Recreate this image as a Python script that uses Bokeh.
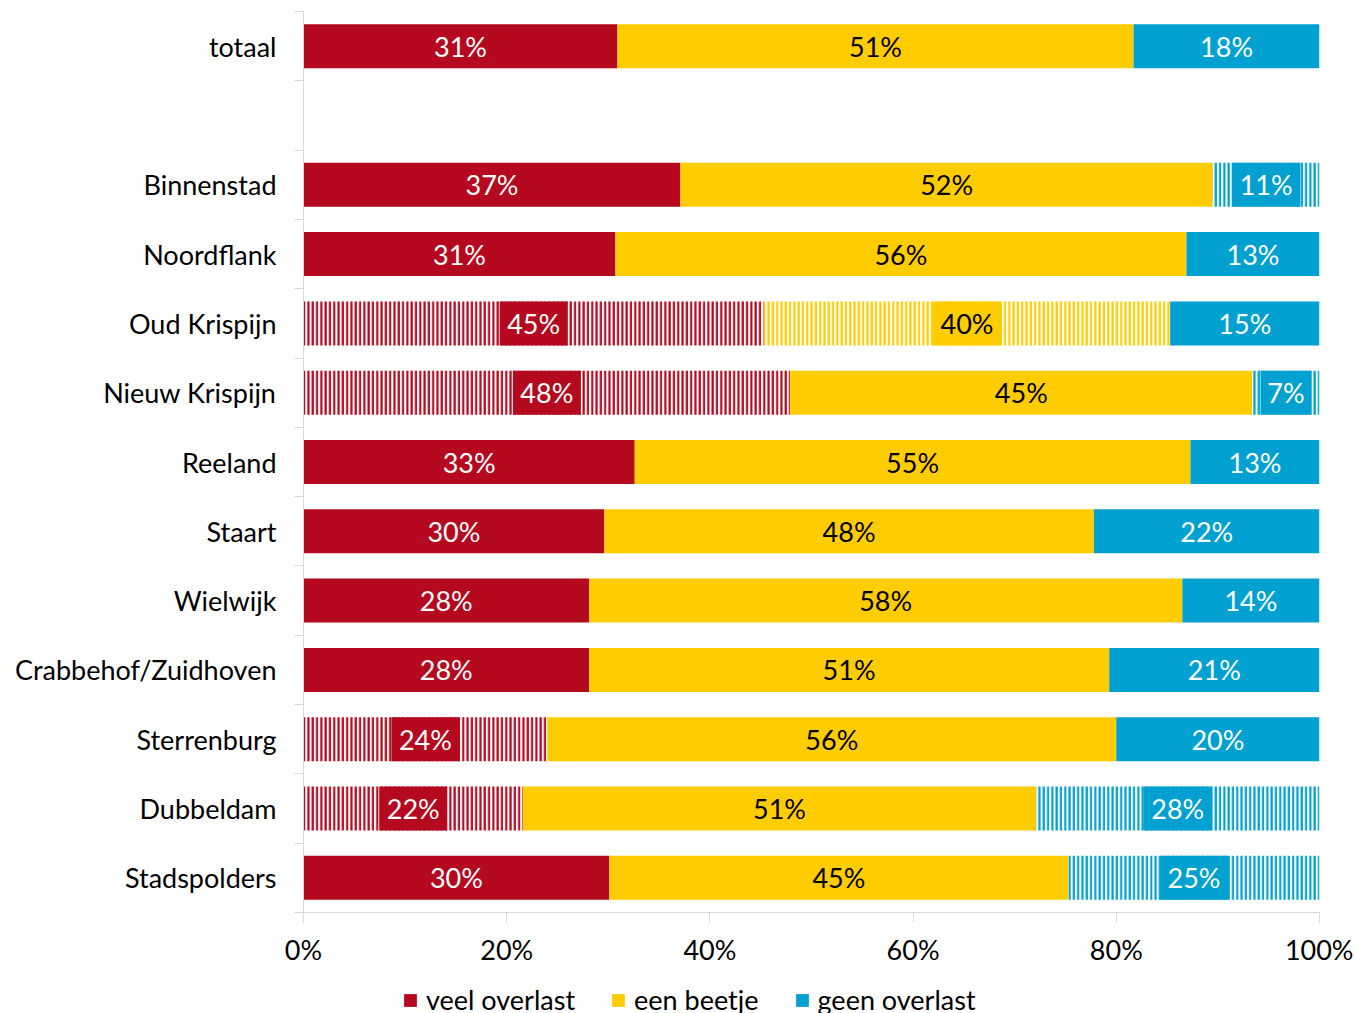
from bokeh.plotting import figure
from bokeh.layouts import column
from bokeh.models import ColumnDataSource, Range1d, FixedTicker, Legend, LegendItem, PrintfTickFormatter
from bokeh.core.properties import value
from bokeh.embed import file_html
from bokeh.resources import INLINE

areas = ["totaal", "Binnenstad", "Noordflank", "Oud Krispijn", "Nieuw Krispijn", "Reeland",
         "Staart", "Wielwijk", "Crabbehof/Zuidhoven", "Sterrenburg", "Dubbeldam", "Stadspolders"]
slots = [0, 2, 3, 4, 5, 6, 7, 8, 9, 10, 11, 12]   # row slot (one empty slot after totaal)
veel = [30.9, 37.1, 30.7, 45.3, 47.9, 32.6, 29.6, 28.1, 28.1, 24.0, 21.6, 30.1]
beetje = [50.8, 52.4, 56.2, 40.0, 45.5, 54.7, 48.2, 58.4, 51.2, 56.0, 50.5, 45.2]
geen = [18.3, 10.5, 13.1, 14.7, 6.6, 12.7, 22.2, 13.5, 20.7, 20.0, 27.9, 24.7]
labels_veel = ["31%", "37%", "31%", "45%", "48%", "33%", "30%", "28%", "28%", "24%", "22%", "30%"]
labels_beetje = ["51%", "52%", "56%", "40%", "45%", "55%", "48%", "58%", "51%", "56%", "51%", "45%"]
labels_geen = ["18%", "11%", "13%", "15%", "7%", "13%", "22%", "14%", "21%", "20%", "28%", "25%"]
hatch_veel = [False, False, False, True, True, False, False, False, False, True, True, False]
hatch_beetje = [False, False, False, True, False, False, False, False, False, False, False, False]
hatch_geen = [False, True, False, False, True, False, False, False, False, False, True, True]
series_names = ["veel overlast", "een beetje", "geen overlast"]
colors = ["#B4091E", "#FFCC00", "#00A1D1"]
text_colors = ["white", "black", "white"]
x_ticks = [0, 20, 40, 60, 80, 100]

FONT = "Lato"
FS = "27px"
N_SLOTS = 13
BAR_H = 0.635
FIG_W = 1353

ys = [N_SLOTS - s - 0.5 for s in slots]

p = figure(frame_width=1016, frame_height=901, output_backend="svg", toolbar_location=None,
           x_range=Range1d(0, 100), y_range=Range1d(0, N_SLOTS),
           min_border_left=303, min_border_right=34, min_border_top=11, min_border_bottom=0)
p.xgrid.visible = False
p.ygrid.visible = False
p.outline_line_color = None
p.background_fill_color = "white"
p.border_fill_color = "white"

values = [veel, beetje, geen]
labels = [labels_veel, labels_beetje, labels_geen]
hatches = [hatch_veel, hatch_beetje, hatch_geen]

lefts = [0.0] * len(areas)
for k in range(3):
    vals = values[k]
    left = lefts[:]
    right = [l + v for l, v in zip(left, vals)]
    lefts = right
    mid = [(l + r) / 2 for l, r in zip(left, right)]
    src = ColumnDataSource(dict(
        y=ys, left=left, right=right, mid=mid, label=labels[k],
        fill=["white" if h else colors[k] for h in hatches[k]],
        hatch=["|" if h else " " for h in hatches[k]],
    ))
    p.hbar(y="y", left="left", right="right", height=BAR_H, fill_color="fill",
           hatch_pattern="hatch", hatch_color=colors[k], hatch_scale=4.3, hatch_weight=2.2,
           line_color=None, source=src)
    idx = [i for i, h in enumerate(hatches[k]) if h]
    if idx:
        bsrc = ColumnDataSource(dict(
            x=[mid[i] for i in idx], y=[ys[i] for i in idx],
            w=[17 + 17 * len(labels[k][i]) for i in idx],
        ))
        p.rect(x="x", y="y", width="w", height=BAR_H, width_units="screen",
               fill_color=colors[k], line_color=None, source=bsrc)
    p.text(x="mid", y="y", text="label", text_align="center", text_baseline="middle",
           text_color=text_colors[k], text_font=value(FONT), text_font_size=FS, source=src)

xa = p.xaxis[0]
xa.ticker = FixedTicker(ticks=x_ticks)
xa.formatter = PrintfTickFormatter(format="%d%%")
xa.axis_line_color = "#D9D9D9"
xa.major_tick_line_color = "#D9D9D9"
xa.major_tick_out = 10
xa.major_tick_in = 0
xa.minor_tick_line_color = None
xa.major_label_standoff = 10
xa.major_label_text_font = FONT
xa.major_label_text_font_size = FS
xa.major_label_text_color = "black"

ya = p.yaxis[0]
ya.ticker = FixedTicker(ticks=ys, minor_ticks=list(range(N_SLOTS + 1)))
ya.major_label_overrides = {y: name for y, name in zip(ys, areas)}
ya.axis_line_color = "#D9D9D9"
ya.major_tick_line_color = None
ya.major_tick_out = 0
ya.major_tick_in = 0
ya.minor_tick_line_color = "#D9D9D9"
ya.minor_tick_out = 9
ya.minor_tick_in = 0
ya.major_label_standoff = 18
ya.major_label_text_font = FONT
ya.major_label_text_font_size = FS
ya.major_label_text_color = "black"

# legend strip below the chart (its frame is aligned with the chart frame by the column layout)
LEG_H = 48
pl = figure(width=FIG_W, height=LEG_H, output_backend="svg", toolbar_location=None,
            x_range=Range1d(0, 1), y_range=Range1d(0, 1),
            x_axis_location=None, y_axis_location=None,
            min_border_left=0, min_border_right=0, min_border_top=0, min_border_bottom=0)
pl.xgrid.visible = False
pl.ygrid.visible = False
pl.outline_line_color = None
pl.border_fill_color = "white"
dummies = [pl.hbar(y=[-5], left=[0], right=[1], height=1, fill_color=c, line_color=None) for c in colors]
legend = Legend(items=[LegendItem(label=n, renderers=[r]) for n, r in zip(series_names, dummies)],
                orientation="horizontal", location=(99, 0),
                label_text_font=FONT, label_text_font_size=FS, label_text_color="black",
                glyph_width=16, glyph_height=16, label_standoff=8, spacing=35,
                border_line_color=None, background_fill_alpha=0, padding=0, margin=0)
pl.add_layout(legend, "center")

layout = column(p, pl, spacing=0)
open("out.html", "w").write(file_html(layout, INLINE))
